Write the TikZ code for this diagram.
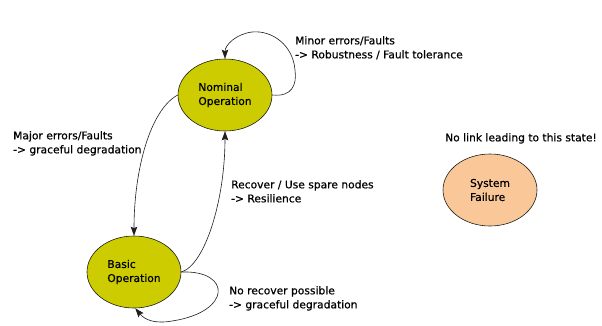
\documentclass[tikz,border=0pt]{standalone}
\usepackage{fontspec}
\setmainfont{DejaVu Sans}[FakeBold=0.6]
\usetikzlibrary{shapes.geometric,arrows.meta}
\definecolor{stateolive}{RGB}{204,204,0}
\definecolor{statepeach}{RGB}{250,200,152}
\definecolor{edgegray}{RGB}{30,30,30}
\tikzset{
  state/.style={ellipse, draw=edgegray, line width=0.6pt, minimum width=94pt,
    minimum height=72pt, inner sep=0pt, align=left,
    font=\fontsize{10.7}{14}\selectfont},
  trans/.style={draw=edgegray, line width=0.6pt,
    -{Stealth[length=9pt,width=6.5pt,inset=1.5pt]}},
  note/.style={align=left, anchor=north west, inner sep=0pt,
    font=\fontsize{10.7}{14}\selectfont}
}
\begin{document}
\begin{tikzpicture}[x=1pt,y=-1pt]
\useasboundingbox (0,0) rectangle (602,325);
\fill[white] (0,0) rectangle (602,325);

% states
\node[state, fill=stateolive] (nom) at (225,95) {Nominal\\Operation};
\node[state, fill=stateolive] (bas) at (134,272) {Basic\\Operation};
\node[state, fill=statepeach] (fail) at (490,190) {System\\Failure};

% transitions
\draw[trans] (nom.0) .. controls (292,97) and (297,85) .. (295,70)
  .. controls (293,45) and (272,30) .. (252,32)
  .. controls (236,34) and (225,45) .. (nom.90);
\draw[trans] (nom.180) .. controls (150,110) and (134,170) .. (bas.90);
\draw[trans] (bas.0) .. controls (205,265) and (225,200) .. (nom.270);
\draw[trans] (bas.0) .. controls (232,270) and (232,312) .. (172,321)
  .. controls (155,324) and (145,320) .. (bas.-88);

% labels
\node[note] (lminor) at (295,36) {Minor errors/Faults\\-> Robustness / Fault tolerance};
\node[note] (lmajor) at (13,131) {Major errors/Faults\\-> graceful degradation};
\node[note] (lrec) at (231,180) {Recover / Use spare nodes\\-> Resilience};
\node[note] (lnorec) at (229,286) {No recover possible\\-> graceful degradation};
\node[note] (lnolink) at (445,133) {No link leading to this state!};
\end{tikzpicture}
\end{document}
